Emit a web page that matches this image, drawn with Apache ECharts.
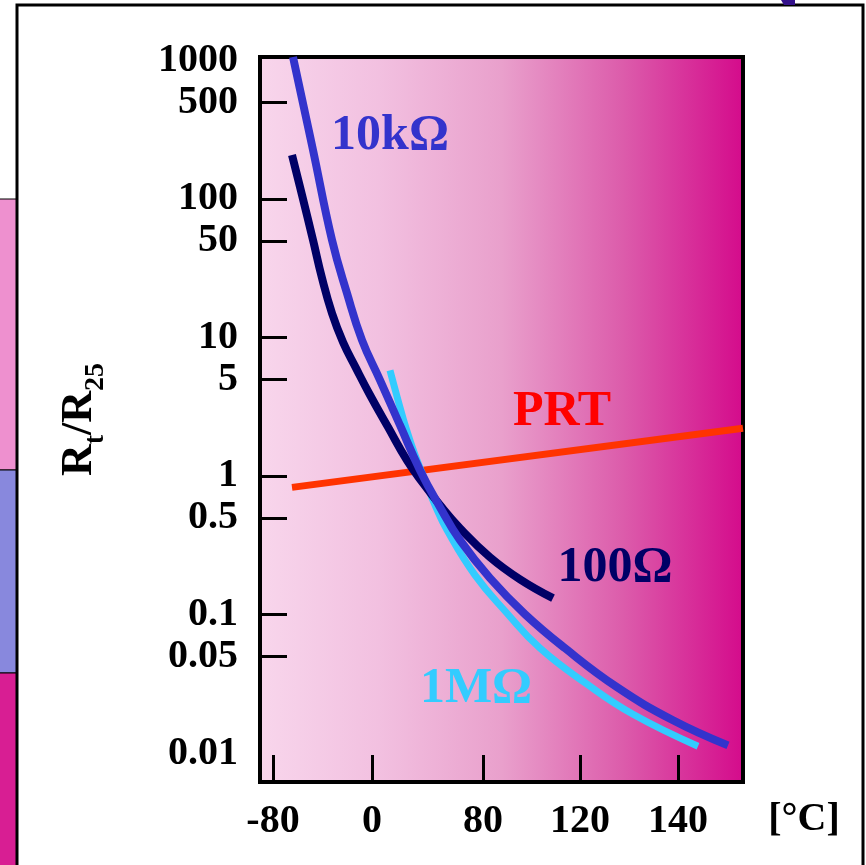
<!DOCTYPE html>
<html>
<head>
<meta charset="utf-8">
<script src="https://cdn.jsdelivr.net/npm/echarts@6/dist/echarts.min.js"></script>
<style>
html, body { margin: 0; padding: 0; background: #fff; }
#chart { width: 866px; height: 865px; }
</style>
</head>
<body>
<div id="chart"></div>
<script>
// x 轴刻度在原图中不等距，所以 x 用刻度位置单位（-80 处为 0）
var xTickPos = [0, 0.99, 2.10, 3.07, 4.05];
var xTickLabels = ['-80', '0', '80', '120', '140'];
var yLabelValues = [0.01, 0.05, 0.1, 0.5, 1, 5, 10, 50, 100, 500, 1000];
var yTickValues = [0.05, 0.1, 0.5, 1, 5, 10, 50, 100, 500];

// 10kΩ
var ntc10kX = [0.20, 0.40, 0.59, 0.74, 0.89, 1.07, 1.27, 1.47, 1.67, 1.87, 2.17, 2.52, 2.92, 3.44, 4.00, 4.55];
var ntc10kY = [1060, 226, 50.6, 20.9, 9.6, 4.93, 2.33, 1.105, 0.597, 0.345, 0.1835, 0.1008, 0.0573, 0.030, 0.0173, 0.0114];
// 100Ω
var ntc100X = [0.19, 0.29, 0.40, 0.49, 0.59, 0.70, 0.83, 0.97, 1.15, 1.34, 1.50, 1.67, 1.87, 2.17, 2.47, 2.80];
var ntc100Y = [208, 107, 50.6, 26.9, 15.0, 9.28, 6.02, 3.85, 2.26, 1.30, 0.89, 0.618, 0.421, 0.260, 0.180, 0.1316];
// 1MΩ
var ntc1mX = [1.17, 1.25, 1.33, 1.42, 1.52, 1.62, 1.74, 2.02, 2.34, 2.67, 3.14, 3.60, 4.25];
var ntc1mY = [5.8, 3.54, 2.22, 1.42, 0.936, 0.618, 0.408, 0.193, 0.1025, 0.0573, 0.0315, 0.0191, 0.01124];
// PRT
var prtX = [0.19, 4.70];
var prtY = [0.83, 2.22];

var FONT = 'Liberation Serif';

function pairs(xs, ys) {
	var out = [];
	for (var i = 0; i < xs.length; i++) {
		out.push([xs[i], ys[i]]);
	}
	return out;
}

var chart = echarts.init(document.getElementById('chart'));

var labelStyle = {
	fontFamily: FONT,
	fontWeight: 'bold',
	fontSize: 40,
	color: '#000',
	textShadowColor: '#a8a8a8',
	textShadowOffsetX: 2,
	textShadowOffsetY: 2,
	textShadowBlur: 0
};

function noteText(text, x, y, color, size) {
	return {
		type: 'text',
		x: x,
		y: y,
		z: 100,
		style: {
			text: text,
			fill: color,
			font: 'bold ' + (size || 50) + 'px "Liberation Serif"',
			textAlign: 'center',
			textVerticalAlign: 'middle',
			textShadowColor: '#a8a8a8',
			textShadowOffsetX: 2,
			textShadowOffsetY: 2
		}
	};
}

var option = {
	animation: false,
	backgroundColor: '#fff',
	grid: {
		left: 260,
		right: 123,
		top: 57,
		bottom: 83,
		show: true,
		borderColor: '#000',
		borderWidth: 4,
		backgroundColor: new echarts.graphic.LinearGradient(0, 0, 1, 0, [
			{ offset: 0, color: '#f8d6ec' },
			{ offset: 0.25, color: '#f2c0e0' },
			{ offset: 0.5, color: '#e9a0cc' },
			{ offset: 0.75, color: '#dc5cab' },
			{ offset: 1, color: '#d40a8b' }
		])
	},
	xAxis: {
		type: 'value',
		min: -0.13,
		max: 4.70,
		axisLine: { show: false, onZero: false },
		splitLine: { show: false },
		axisTick: {
			show: true,
			inside: true,
			length: 27,
			lineStyle: { color: '#000', width: 3 },
			customValues: xTickPos
		},
		axisLabel: Object.assign({
			margin: 20,
			customValues: xTickPos,
			formatter: function (v) {
				for (var i = 0; i < xTickPos.length; i++) {
					if (Math.abs(xTickPos[i] - v) < 1e-6) return xTickLabels[i];
				}
				return '';
			}
		}, labelStyle)
	},
	yAxis: {
		type: 'log',
		logBase: 10,
		min: 0.0062,
		max: 1060,
		name: '{a|R}{b|t}{a|/R}{b|25}',
		nameLocation: 'middle',
		nameRotate: 90,
		nameGap: 150,
		nameTextStyle: {
			rich: {
				a: {
					fontFamily: FONT, fontWeight: 'bold', fontSize: 44, color: '#000',
					lineHeight: 60, verticalAlign: 'middle',
					textShadowColor: '#a8a8a8', textShadowOffsetX: 2, textShadowOffsetY: 2
				},
				b: {
					fontFamily: FONT, fontWeight: 'bold', fontSize: 28, color: '#000',
					lineHeight: 28, verticalAlign: 'bottom',
					textShadowColor: '#a8a8a8', textShadowOffsetX: 2, textShadowOffsetY: 2
				}
			}
		},
		axisLine: { show: false, onZero: false },
		splitLine: { show: false },
		axisTick: {
			show: true,
			inside: true,
			length: 27,
			lineStyle: { color: '#000', width: 3 },
			customValues: yTickValues
		},
		axisLabel: Object.assign({
			margin: 22,
			customValues: yLabelValues,
			formatter: function (v) { return String(+v.toPrecision(3)); }
		}, labelStyle)
	},
	series: [
		{
			name: 'PRT', type: 'line', showSymbol: false, z: 2,
			lineStyle: { color: '#ff3300', width: 7 },
			data: pairs(prtX, prtY)
		},
		{
			name: '1MΩ', type: 'line', smooth: 0.45, showSymbol: false, z: 3,
			lineStyle: { color: '#33ccff', width: 7 },
			data: pairs(ntc1mX, ntc1mY)
		},
		{
			name: '100Ω', type: 'line', smooth: 0.45, showSymbol: false, z: 4,
			lineStyle: { color: '#000066', width: 8 },
			data: pairs(ntc100X, ntc100Y)
		},
		{
			name: '10kΩ', type: 'line', smooth: 0.45, showSymbol: false, z: 5,
			lineStyle: { color: '#3333cc', width: 8 },
			data: pairs(ntc10kX, ntc10kY)
		}
	],
	graphic: [
		// 幻灯片边框与左侧色条
		{ type: 'rect', shape: { x: 17, y: 5, width: 846, height: 880 }, style: { fill: 'none', stroke: '#000', lineWidth: 3 }, z: -10 },
		{ type: 'rect', shape: { x: -2, y: 199, width: 18, height: 271 }, style: { fill: '#ee90cf', stroke: '#000', lineWidth: 1 }, z: -10 },
		{ type: 'rect', shape: { x: -2, y: 470, width: 18, height: 203 }, style: { fill: '#8888dd', stroke: '#000', lineWidth: 1 }, z: -10 },
		{ type: 'rect', shape: { x: -2, y: 673, width: 18, height: 200 }, style: { fill: '#d81e93', stroke: '#000', lineWidth: 1 }, z: -10 },
		{ type: 'polygon', shape: { points: [[781, 0], [795, 0], [795, 5], [784, 5]] }, style: { fill: '#33118a' }, z: -10 },
		noteText('10kΩ', 390, 136, '#3333cc'),
		noteText('PRT', 562, 412, '#ff0000'),
		noteText('100Ω', 615, 568, '#000066'),
		noteText('1MΩ', 476, 689, '#33ccff'),
		noteText('[°C]', 804, 820, '#000', 40)
	]
};

chart.setOption(option);
</script>
</body>
</html>
